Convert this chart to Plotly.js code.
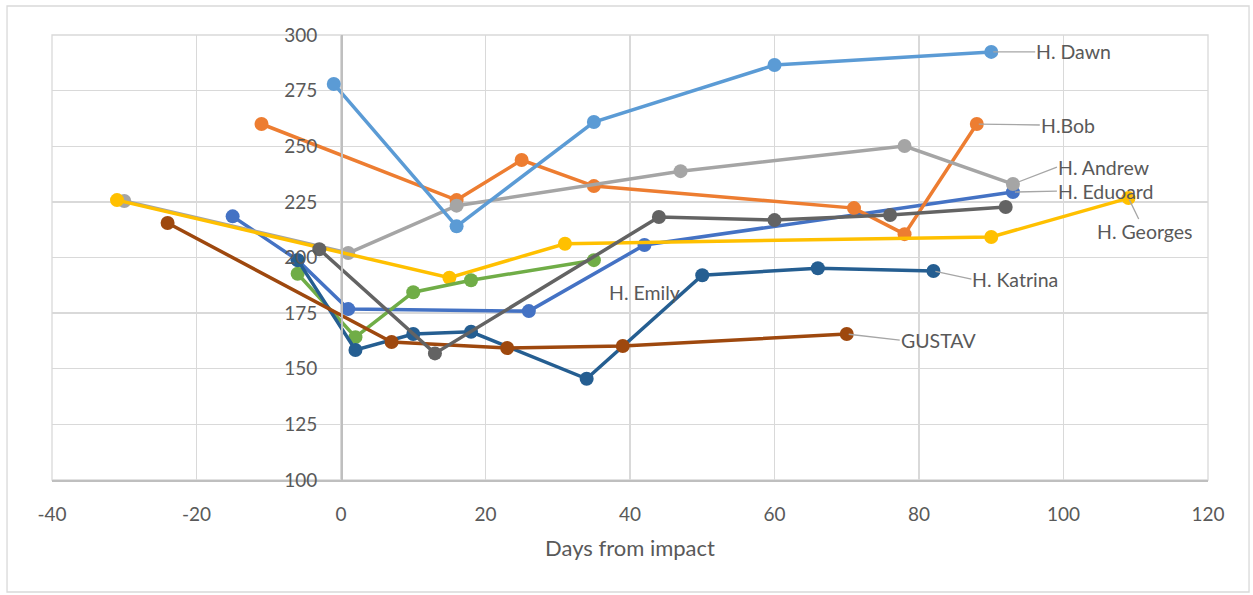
<!DOCTYPE html>
<html>
<head>
<meta charset="utf-8">
<script src="https://cdn.plot.ly/plotly-3.0.1.min.js"></script>
<style>html,body{margin:0;padding:0;background:#fff;}</style>
</head>
<body>
<div id="chart" style="width:1253px;height:595px;"></div>
<script>
// Data
const eduoardX = [-15, -6, 1, 26, 42, 93];
const eduoardY = [218.5, 198.8, 176.8, 175.9, 205.6, 229.4];
const bobX = [-11, 16, 25, 35, 71, 78, 88];
const bobY = [260, 225.8, 243.8, 232.1, 222.2, 210.5, 260];
const andrewX = [-30, 1, 16, 47, 78, 93];
const andrewY = [225.4, 202, 223.3, 238.8, 250.1, 233];
const georgesX = [-31, 15, 31, 90, 109];
const georgesY = [225.8, 190.9, 206.2, 209.2, 226.7];
const dawnX = [-1, 16, 35, 60, 90];
const dawnY = [278, 214, 260.9, 286.5, 292.4];
const emilyX = [-6, 2, 10, 18, 35];
const emilyY = [192.7, 164.2, 184.4, 189.8, 198.8];
const katrinaX = [-6, 2, 10, 18, 34, 50, 66, 82];
const katrinaY = [198.8, 158.4, 165.6, 166.6, 145.5, 192, 195.2, 193.9];
const gustavX = [-24, 7, 23, 39, 70];
const gustavY = [215.5, 162, 159.3, 160.2, 165.6];
const otherX = [-3, 13, 44, 60, 76, 92];
const otherY = [203.7, 156.9, 218.2, 216.8, 219.1, 222.7];

const xTicks = [-40, -20, 0, 20, 40, 60, 80, 100, 120];
const yTicks = [100, 125, 150, 175, 200, 225, 250, 275, 300];

const series = [
  {name: 'H. Eduoard', x: eduoardX, y: eduoardY, color: '#4472C4'},
  {name: 'H.Bob', x: bobX, y: bobY, color: '#ED7D31'},
  {name: 'H. Andrew', x: andrewX, y: andrewY, color: '#A5A5A5'},
  {name: 'H. Georges', x: georgesX, y: georgesY, color: '#FFC000'},
  {name: 'H. Dawn', x: dawnX, y: dawnY, color: '#5B9BD5'},
  {name: 'H. Emily', x: emilyX, y: emilyY, color: '#70AD47'},
  {name: 'H. Katrina', x: katrinaX, y: katrinaY, color: '#255E91'},
  {name: 'GUSTAV', x: gustavX, y: gustavY, color: '#9E480E'},
  {name: '', x: otherX, y: otherY, color: '#636363'}
];

const traces = series.map(s => ({
  type: 'scatter', mode: 'lines+markers', name: s.name,
  x: s.x, y: s.y,
  line: {color: s.color, width: 3.5},
  marker: {color: s.color, size: 14},
  cliponaxis: false,
  showlegend: false
}));

const font = {family: 'Lato, "Open Sans", sans-serif', size: 19, color: '#595959'};
const titleFont = {family: 'Lato, "Open Sans", sans-serif', size: 22, color: '#595959'};
const lblFont = {family: 'Lato, "Open Sans", sans-serif', size: 19.5, color: '#595959'};
function last(a){ return a[a.length-1]; }
function lbl(s, ax, ay, xanchor){
  return {x: last(s.x), y: last(s.y), text: s.name, showarrow: true,
    arrowhead: 0, arrowwidth: 1.3, arrowcolor: '#a6a6a6', standoff: 2,
    borderpad: 0,
    ax: ax, ay: ay, xanchor: xanchor || 'left', yanchor: 'middle', font: lblFont};
}
const annotations = [
  lbl(series[4], 44, 0),
  lbl(series[1], 63, 1),
  lbl(series[2], 44, -17),
  lbl(series[0], 44, -1),
  lbl(series[3], 16, 33, 'center'),
  lbl(series[6], 38, 8),
  lbl(series[7], 53, 6),
  {x: last(emilyX), y: last(emilyY), text: 'H. Emily', showarrow: false,
   xshift: 51, yshift: -32, font: lblFont}
];

const layout = {
  width: 1253, height: 595,
  margin: {l: 52, r: 45, t: 35, b: 115},
  paper_bgcolor: '#ffffff', plot_bgcolor: '#ffffff',
  font: font,
  xaxis: {
    range: [-40, 120], tickvals: xTicks, ticktext: xTicks.map(String),
    showgrid: true, gridcolor: '#d9d9d9', gridwidth: 1.3,
    zeroline: false, showline: true, linecolor: '#bfbfbf', linewidth: 1.5,
    ticks: '', ticklabelstandoff: 17,
    tickfont: font,
    title: {text: 'Days from impact', font: titleFont, standoff: 16}
  },
  yaxis: {
    range: [100, 300], tickvals: yTicks, ticktext: yTicks.map(String),
    showgrid: true, gridcolor: '#d9d9d9', gridwidth: 1.3,
    zeroline: false, showline: true, linecolor: '#bfbfbf', linewidth: 1.5,
    anchor: 'free', position: 0.25,
    ticks: '', ticklabelstandoff: 20,
    tickfont: font
  },
  annotations: annotations,
  shapes: [
    {type: 'rect', xref: 'paper', yref: 'paper', layer: 'below',
     x0: 0, x1: 1, y0: 0, y1: 1,
     line: {color: '#d9d9d9', width: 1.3}},
    {type: 'rect', xref: 'paper', yref: 'paper',
     x0: -0.0389, x1: 1.0355, y0: -0.2517, y1: 1.0652,
     line: {color: '#d9d9d9', width: 1.3}}
  ]
};

Plotly.newPlot('chart', traces, layout, {displayModeBar: false, staticPlot: true});
</script>
</body>
</html>
